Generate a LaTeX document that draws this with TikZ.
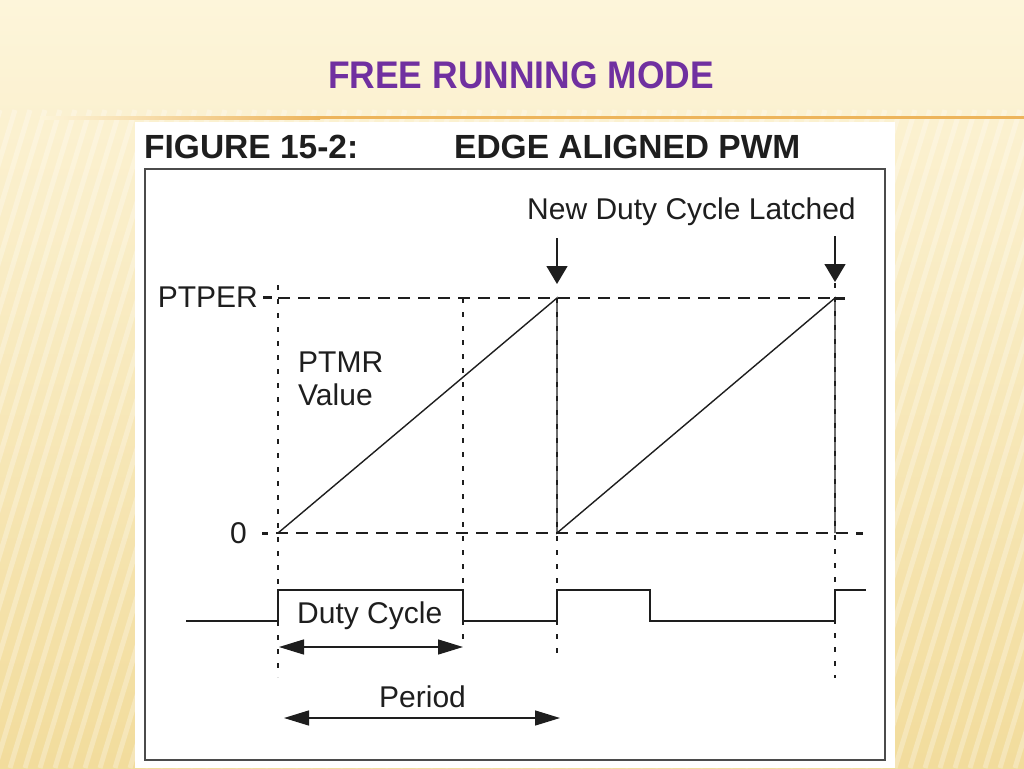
\documentclass[tikz,border=0pt]{standalone}
\usepackage{fontspec}
\setmainfont{Liberation Sans}
\usetikzlibrary{arrows.meta}
\definecolor{bgtop}{HTML}{FDF5DA}
\definecolor{bgbot}{HTML}{F2DC9C}
\definecolor{titlepurple}{HTML}{7030A0}
\definecolor{rulecol}{HTML}{EDB45C}
\definecolor{ink}{HTML}{1E1E1E}

\begin{document}
\begin{tikzpicture}[x=1pt, y=-1pt,
    sig/.style={line width=1.4pt, ink},
    guide/.style={line width=1.1pt, ink, dash pattern=on 5pt off 9pt},
    levelline/.style={line width=1.1pt, ink, dash pattern=on 12pt off 8pt},
    tickmark/.style={line width=3pt, ink},
    txt/.style={font=\fontsize{30}{33}\selectfont, text=ink, inner sep=0pt},
    headtxt/.style={font=\bfseries\fontsize{33.5}{36}\selectfont, text=ink, inner sep=0pt},
    latch/.style={line width=1.4pt, ink, -{Triangle[length=18pt, width=21pt]}},
    spanarrow/.style={line width=1.4pt, ink, {Triangle[length=25pt, width=15pt]}-{Triangle[length=25pt, width=15pt]}}]
    \useasboundingbox (0,0) rectangle (1024,768);
    % background
    \shade[top color=bgtop, bottom color=bgbot] (0,0) rectangle (1024,768);
    \foreach \i in {-260,-245,...,1040}
        \draw[white, opacity=0.28, line width=5pt] (\i,768) -- (\i+200,110);
    \shade[left color=bgtop, right color=rulecol] (40,116) rectangle (320,119);
    \fill[rulecol] (320,116) rectangle (1024,119);
    \node[font=\bfseries\fontsize{38.5}{41}\selectfont, text=titlepurple, inner sep=0pt] (title) at (521,75) {\scalebox{0.92}[1]{FREE RUNNING MODE}};
    % figure panel
    \fill[white] (135,122) rectangle (895,768);
    \node[headtxt, anchor=base west] (fignum) at (144,158) {FIGURE 15-2:};
    \node[headtxt, anchor=base west] (figname) at (454,158) {EDGE ALIGNED PWM};
    \draw[line width=1.5pt, ink!80] (145,169) rectangle (885,760);
    % levels
    \node[txt, anchor=base east] (ptper) at (258,307) {PTPER};
    \node[txt, anchor=base east] (zero) at (247,543) {0};
    \draw[tickmark] (263,297) -- (272,297);
    \draw[tickmark] (262,533) -- (268,533);
    \draw[levelline] (278,298) -- (835,298);
    \draw[tickmark] (835,298) -- (845,298);
    \draw[levelline] (276,533) -- (850,533);
    \draw[tickmark] (856,533) -- (863,533);
    \node[txt, anchor=base west] (ptmr) at (298,372) {PTMR};
    \node[txt, anchor=base west] (value) at (298,405) {Value};
    % edges
    \draw[guide] (278,285) -- (278,677);
    \draw[guide] (463,298) -- (463,640);
    \draw[guide] (557,298) -- (557,658);
    \draw[guide] (835,283) -- (835,678);
    % ramp
    \draw[sig] (278,533) -- (557,298) -- (557,533) -- (835,298) -- (835,533);
    % latch marks
    \node[txt, anchor=base west] (latched) at (527,219) {New Duty Cycle Latched};
    \coordinate (l1) at (557,238);
    \coordinate (l1t) at (557,284);
    \coordinate (l2) at (835,236);
    \coordinate (l2t) at (835,282);
    \draw[latch] (l1) -- (l1t);
    \draw[latch] (l2) -- (l2t);
    % pwm output
    \draw[sig] (186,621) -- (278,621) -- (278,590) -- (463,590) -- (463,621) -- (557,621)
        -- (557,590) -- (650,590) -- (650,621) -- (835,621) -- (835,590) -- (866,590);
    \node[txt, anchor=base west] (duty) at (297,623) {Duty Cycle};
    \coordinate (d1) at (279,647);
    \coordinate (d2) at (463,647);
    \draw[spanarrow] (d1) -- (d2);
    \node[txt, anchor=base west] (period) at (379,707) {Period};
    \coordinate (p1) at (284,718);
    \coordinate (p2) at (560,718);
    \draw[spanarrow] (p1) -- (p2);
\end{tikzpicture}
\end{document}
